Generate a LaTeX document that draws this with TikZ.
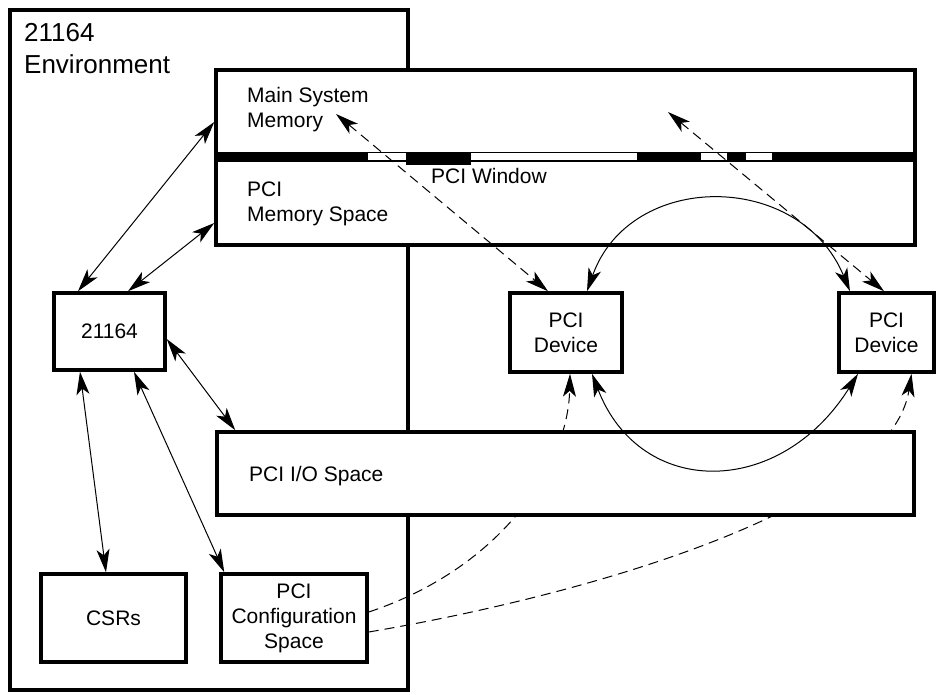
\documentclass[tikz,border=0pt]{standalone}
\usepackage{fontspec}
\setmainfont{Liberation Sans}
\usetikzlibrary{arrows.meta,positioning,calc}
\tikzset{
  blockbox/.style={draw=black,line width=3.5pt,fill=white,inner sep=0pt,align=center,
    font=\fontsize{21}{25}\selectfont},
  blocklabel/.style={font=\fontsize{21}{25}\selectfont,align=left,inner sep=0pt},
  linkarrow/.style={{Stealth[length=23pt,width=13pt,inset=6pt]}-{Stealth[length=23pt,width=13pt,inset=6pt]},line width=1pt},
  dashlink/.style={linkarrow,dash pattern=on 10pt off 6pt},
  cfglink/.style={-{Stealth[length=23pt,width=13pt,inset=6pt]},line width=1pt,dash pattern=on 10pt off 6pt}
}
\begin{document}
\begin{tikzpicture}[x=1pt,y=-1pt]
  \useasboundingbox (0,0) rectangle (937,694);
  % 21164 side
  \node[blockbox,minimum width=398,minimum height=680] (env) at (209,350) {};
  \node[blocklabel,font=\fontsize{26}{32}\selectfont,anchor=north west] (envlabel) at (24,23) {21164\\Environment};
  \node[blockbox,minimum width=111,minimum height=77] (cpu) at (109.5,331.5) {21164};
  \node[blockbox,minimum width=145,minimum height=88] (csr) at (113.5,618) {CSRs};
  \node[blockbox,minimum width=146,minimum height=88] (cfg) at (294,618) {PCI\\Configuration\\Space};

  % PCI devices
  \node[blockbox,minimum width=112,minimum height=79] (dev1) at (566,332.5) {PCI\\Device};
  \node[blockbox,minimum width=95,minimum height=79] (dev2) at (886.5,332.5) {PCI\\Device};

  % dashed config links, partly hidden by the I/O box
  \draw[cfglink] ([yshift=6]cfg.east) .. controls +(135,-45) and +(-2,90) .. ([xshift=4]dev1.south);
  \draw[cfglink] ([yshift=-14]cfg.east) .. controls +(235,-40) and +(-20,130) .. ([xshift=25]dev2.south);

  % memory spaces
  \node[blockbox,minimum width=699,minimum height=87] (mainmem) at (565.5,113.5) {};
  \node[blockbox,minimum width=699,minimum height=88] (pcimem) at (565.5,201) {};
  \fill[black] (mainmem.south west) ++(0,-7) rectangle ([yshift=-7pt]pcimem.north east);
  \fill[black] (406,157) rectangle (471,165);
  \foreach \a/\b in {368/406,471/637,701/727,746/772}
    \fill[white] (\a,153) rectangle (\b,160);
  \node[blocklabel,anchor=north west] (mainlabel) at (247,87) {Main System\\Memory};
  \node[blocklabel,anchor=north west] (pcimemlabel) at (247,182) {PCI\\Memory Space};
  \node[blocklabel,anchor=north west] (winlabel) at (431,168) {PCI Window};

  % PCI I/O space
  \node[blockbox,minimum width=697,minimum height=83] (io) at (565.5,473.5) {};
  \node[blocklabel,anchor=west] (iolabel) at (249,476) {PCI I/O Space};

  \coordinate (memtipA) at (336,114);
  \coordinate (memtipB) at (668,112);

  % connectors
  \draw[linkarrow] ([xshift=-31.5]cpu.north) -- ([yshift=-8.5]mainmem.west);
  \draw[linkarrow] ([xshift=18.5]cpu.north) -- ([yshift=-22]pcimem.west);
  \draw[linkarrow] ([yshift=-7.5]cpu.east) -- ([xshift=20]io.north west);
  \draw[linkarrow] ([xshift=-29.5]cpu.south) -- ([xshift=-7.5]csr.north);
  \draw[linkarrow] ([xshift=24.5]cpu.south) -- ([xshift=5]cfg.north west);
  \draw[dashlink] (memtipA) -- ([xshift=-18]dev1.north);
  \draw[dashlink] (memtipB) -- ([xshift=-2.5]dev2.north);
  \draw[linkarrow] ([xshift=21]dev1.north) .. controls +(43,-121) and +(-50,-121) .. ([xshift=-36.5]dev2.north);
  \draw[linkarrow] ([xshift=26]dev1.south) .. controls +(48,125) and +(-78,125) .. ([xshift=-28.5]dev2.south);
\end{tikzpicture}
\end{document}
